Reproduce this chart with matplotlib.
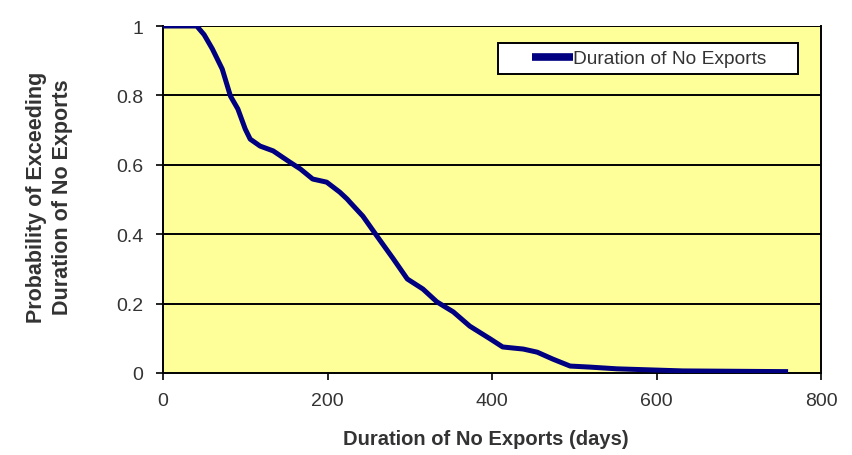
import matplotlib.pyplot as plt
from matplotlib.patches import Rectangle

plt.rcParams['font.family'] = ['Liberation Sans', 'DejaVu Sans']

# empirical exceedance curve for the no-export spells
dias = [0, 20, 41, 50, 60, 72, 82, 91, 100, 106, 118, 134, 154, 167, 182, 199,
        215, 224, 227, 243, 260, 280, 297, 316, 333, 353, 373, 398, 413, 438,
        455, 474, 495, 519, 552, 592, 632, 693, 754, 760]
prob = [1.0, 1.0, 1.0, 0.975, 0.934, 0.876, 0.798, 0.761, 0.703, 0.674, 0.654,
        0.640, 0.608, 0.588, 0.559, 0.550, 0.521, 0.501, 0.493, 0.452, 0.395,
        0.329, 0.271, 0.242, 0.205, 0.176, 0.135, 0.098, 0.075, 0.069, 0.060,
        0.040, 0.020, 0.017, 0.012, 0.009, 0.006, 0.005, 0.004, 0.004]

xticks = [0, 200, 400, 600, 800]
yticks = [0, 0.2, 0.4, 0.6, 0.8, 1]
ylabels = ['0', '0.2', '0.4', '0.6', '0.8', '1']

fig = plt.figure(figsize=(8.52, 4.56), dpi=100)
ax = fig.add_axes([163/852, 1 - 374/456, 658/852, 347/456])
ax.set_facecolor('#ffff99')

ax.plot(dias, prob, color='#000080', lw=3.6, solid_capstyle='butt',
        label='Duration of No Exports', zorder=3)

ax.set_xlim(0, 800)
ax.set_ylim(0, 1)
ax.set_xticks(xticks)
ax.set_xticklabels([str(v) for v in xticks])
ax.set_yticks(yticks)
ax.set_yticklabels(ylabels)
ax.tick_params(axis='both', labelsize=14, colors='black', labelcolor='#333333',
               width=1.2)
ax.tick_params(axis='x', direction='out', length=5, pad=9)
ax.tick_params(axis='y', direction='out', length=5, pad=9)

for y in yticks[1:]:
    ax.axhline(y, color='black', lw=1.4, zorder=2)
ax.spines['top'].set_visible(False)
for s in ['left', 'bottom', 'right']:
    ax.spines[s].set_linewidth(1.4)

ax.set_xlabel('Duration of No Exports (days)', fontsize=14.5, fontweight='bold',
              color='#333333')
ax.xaxis.set_label_coords(0.49, -0.16)
ax.set_ylabel('Probability of Exceeding\nDuration of No Exports', fontsize=15.5,
              fontweight='bold', color='#333333', linespacing=1.3)
ax.yaxis.set_label_coords(-0.137, 0.51)

# legend box
ax.add_patch(Rectangle((0.509, 0.862), 0.456, 0.089, transform=ax.transAxes,
                       facecolor='white', edgecolor='black', lw=1.4, zorder=4))
leg = ax.legend(loc='center left', bbox_to_anchor=(0.561, 0.906), frameon=False,
                borderpad=0, borderaxespad=0, handlelength=2.15,
                handletextpad=0, fontsize=13.8, labelcolor='#333333')
leg.get_lines()[0].set_linewidth(5.5)

fig.savefig('out.png', dpi=100)
